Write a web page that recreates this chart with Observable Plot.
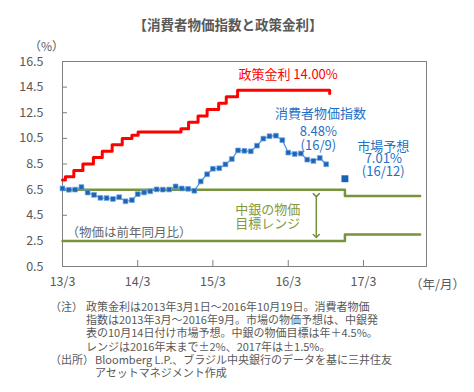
<!DOCTYPE html>
<html><head><meta charset="utf-8">
<script src="https://cdn.jsdelivr.net/npm/d3@7"></script>
<script src="https://cdn.jsdelivr.net/npm/@observablehq/plot@0.6"></script>
<style>
body{margin:0;background:#fff;font-family:"Noto Sans CJK JP",sans-serif;}
#wrap{position:relative;width:474px;height:392px;overflow:hidden;background:#fff;}
#chart{position:absolute;left:0;top:0;}
.t{position:absolute;color:#595959;white-space:nowrap;}
#title{left:0;width:456px;top:14px;text-align:center;font-size:13.5px;font-weight:bold;line-height:20px;}
#pct{left:29px;top:38px;font-size:12px;line-height:16px;}
#unit{left:410px;top:276px;font-size:12.5px;line-height:16px;}
.note{font-size:11px;line-height:13.2px;}
</style></head><body>
<div id="wrap">
<div id="chart"></div>
<div class="t" id="title">【消費者物価指数と政策金利】</div>
<div class="t" id="pct">（%）</div>
<div class="t" id="unit">（年/月）</div>
<div class="t note" style="left:50px;top:300px;">（注）</div>
<div class="t note" style="left:86px;top:300px;">政策金利は2013年3月1日～2016年10月19日。消費者物価<br>指数は2013年3月～2016年9月。市場の物価予想は、中銀発<br>表の10月14日付け市場予想。中銀の物価目標は年＋4.5%。<br>レンジは2016年末まで±2%、2017年は±1.5%。</div>
<div class="t note" style="left:50px;top:353px;">（出所）</div>
<div class="t note" style="left:95px;top:353px;">Bloomberg L.P.、ブラジル中央銀行のデータを基に三井住友<br>アセットマネジメント作成</div>
</div>
<script>
// Consumer price index (yoy %), monthly from 2013-03 to 2016-09
const cpiMonths = ["2013-03","2013-04","2013-05","2013-06","2013-07","2013-08","2013-09","2013-10","2013-11","2013-12",
  "2014-01","2014-02","2014-03","2014-04","2014-05","2014-06","2014-07","2014-08","2014-09","2014-10","2014-11","2014-12",
  "2015-01","2015-02","2015-03","2015-04","2015-05","2015-06","2015-07","2015-08","2015-09","2015-10","2015-11","2015-12",
  "2016-01","2016-02","2016-03","2016-04","2016-05","2016-06","2016-07","2016-08","2016-09"];
const cpiValues = [6.59,6.49,6.50,6.70,6.27,6.09,5.86,5.84,5.77,5.91,
  5.59,5.68,6.15,6.28,6.37,6.52,6.50,6.51,6.75,6.59,6.56,6.41,
  7.14,7.70,8.13,8.17,8.47,8.89,9.56,9.53,9.49,9.93,10.48,10.67,
  10.71,10.36,9.39,9.28,9.32,8.84,8.74,8.97,8.48];
// Policy rate (%), change dates
const policyDates = ["2013-03-01","2013-03-15","2013-04-25","2013-06-08","2013-07-29","2013-09-10","2013-10-28","2013-12-16",
  "2014-02-01","2014-03-03","2014-09-27","2014-11-03","2014-12-19","2015-02-01","2015-03-29","2015-05-05","2015-06-29","2016-09-18"];
const policyRates = [7.25,7.5,8.0,8.5,9.0,9.5,10.0,10.5,10.75,11.0,11.25,11.75,12.25,12.75,13.25,13.75,14.25,14.0];
// Central bank target range
const targetDates = ["2013-03-01","2016-12-01","2017-12-01"];
const targetUpper = [6.5,6.0,6.0];
const targetLower = [2.5,3.0,3.0];
// Market forecast
const forecastDates = ["2016-12-01"];
const forecastValues = [7.35];
// Axis ticks
const yTicks = [0.5,2.5,4.5,6.5,8.5,10.5,12.5,14.5,16.5];
const xTickDates = ["2013-03-01","2014-03-01","2015-03-01","2016-03-01","2017-03-01"];

const D = s => new Date(s.length === 7 ? s + "-01" : s);
const cpi = cpiMonths.map((m, i) => ({date: D(m), value: cpiValues[i]}));
const policy = policyDates.map((d, i) => ({date: D(d), value: policyRates[i]}));
const upper = targetDates.map((d, i) => ({date: D(d), value: targetUpper[i]}));
const lower = targetDates.map((d, i) => ({date: D(d), value: targetLower[i]}));
const forecast = forecastDates.map((d, i) => ({date: D(d), value: forecastValues[i]}));
const xTicks = xTickDates.map(D);
const fmt = d => `${d.getUTCFullYear() % 100}/${d.getUTCMonth() + 1}`;

const olive = "#77933c";
const blue = "#1f6fc5";
const txt = (text, date, value, o) => Plot.text([text], {x: () => D(date), y: () => value, text: d => d, ...o});

const chart = Plot.plot({
  width: 474, height: 392,
  marginTop: 61, marginLeft: 62, marginRight: 48, marginBottom: 126,
  style: {fontFamily: "'Noto Sans CJK JP', sans-serif", fontSize: "12.5px", color: "#595959", background: "transparent"},
  x: {type: "utc", domain: [D("2013-03-01"), D("2018-01-01")], label: null},
  y: {domain: [0.5, 16.5], label: null},
  marks: [
    Plot.axisY(yTicks, {tickSize: 0, tickPadding: 19, fontSize: 12.5, tickFormat: d => d.toFixed(1), label: null}),
    Plot.axisY(yTicks, {tickSize: -5, text: null, stroke: "#7f7f7f", label: null}),
    Plot.axisX(xTicks, {tickSize: 0, tickPadding: 11, tickFormat: fmt, fontSize: 12.5, label: null}),
    Plot.axisX(xTicks, {tickSize: -6, text: null, stroke: "#7f7f7f", label: null}),
    Plot.frame({stroke: "#7f7f7f"}),
    Plot.line(upper, {x: "date", y: "value", curve: "step-after", stroke: olive, strokeWidth: 2.5}),
    Plot.line(lower, {x: "date", y: "value", curve: "step-after", stroke: olive, strokeWidth: 2.5}),
    Plot.link([0], {x1: () => D("2016-07-15"), x2: () => D("2016-07-15"), y1: () => 6.07, y2: () => 2.88,
      stroke: olive, strokeWidth: 1.5, markerStart: "arrow", markerEnd: "arrow"}),
    Plot.line(policy, {x: "date", y: "value", curve: "step-after", stroke: "#ff0000", strokeWidth: 3}),
    Plot.line(cpi, {x: "date", y: "value", stroke: "#4a90d9", strokeWidth: 1.2}),
    Plot.dot(cpi, {x: "date", y: "value", symbol: "square", r: 2.7, fill: "#1e63b5", stroke: "#6aa6e3", strokeWidth: 0.7}),
    Plot.dot(forecast, {x: "date", y: "value", symbol: "square", r: 3.9, fill: "#1763b8"}),
    txt("政策金利 14.00%", "2015-07-03", 15.49, {fill: "#ff0000", fontSize: 13, textAnchor: "start"}),
    txt("消費者物価指数", "2016-08-04", 12.45, {fill: blue, fontSize: 13}),
    txt("8.48%\n(16/9)", "2016-07-25", 10.505, {fill: blue, fontSize: 13, lineHeight: 1.08}),
    txt("市場予想\n7.01%\n(16/12)", "2017-06-05", 8.87, {fill: blue, fontSize: 13, lineHeight: 0.98}),
    txt("中銀の物価\n目標レンジ", "2015-06-17", 4.415, {fill: "#86983a", fontSize: 13, textAnchor: "start", lineHeight: 1.08}),
    txt("（物価は前年同月比）", "2013-03-20", 3.14, {fill: "#666666", fontSize: 12.5, textAnchor: "start"})
  ]
});
document.getElementById("chart").appendChild(chart);
</script>
</body></html>
